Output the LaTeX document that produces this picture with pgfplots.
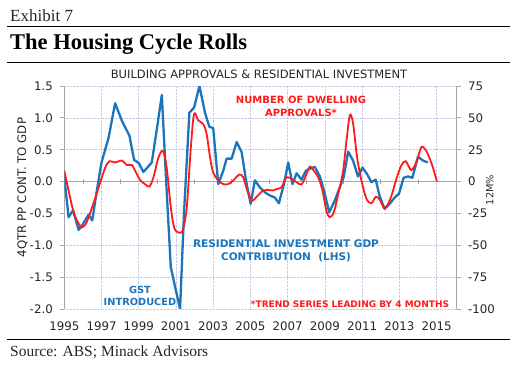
\documentclass[border=0pt]{standalone}
\usepackage{fontspec}
\setmainfont{Liberation Serif}
\newfontfamily\dv{DejaVu Sans}
\usepackage{pgfplots}
\pgfplotsset{compat=1.18}
\definecolor{cblue}{HTML}{1B75BC}
\definecolor{cred}{HTML}{FF1A1A}
\definecolor{cgrid}{HTML}{CACAE6}
\definecolor{caxis}{HTML}{A6A6A6}
\definecolor{ctext}{HTML}{262626}
\pgfplotsset{mybase/.style={
  at={(64.3pt,58pt)}, anchor=south west, scale only axis,
  width=392.2pt, height=223pt,
  xmin=1995, xmax=2016.07,
  /pgf/number format/assume math mode=true,
  tick label style={font=\dv\fontsize{11.8}{13}\selectfont, text=ctext},
  label style={font=\dv\fontsize{11.8}{13}\selectfont, text=ctext},
}}
\begin{document}
\begin{tikzpicture}
\path[use as bounding box] (0pt,0pt) rectangle (520pt,367pt);
% zero line tick marks
\begin{axis}[mybase, ymin=-2, ymax=1.5,
  axis x line=middle, axis y line=none,
  xtick={1996,1998,...,2014}, xticklabels={},
  x axis line style={draw=none},
  xtick style={caxis, line width=0.8pt},
  tick align=center, major tick length=5pt]
\end{axis}
% left axis: residential investment
\begin{axis}[mybase, ymin=-2, ymax=1.5,
  axis y line*=left, axis x line*=bottom,
  x axis line style={draw=none},
  y axis line style={caxis, line width=0.8pt},
  xtick={1995,1997,...,2015},
  xticklabels={1995,1997,1999,2001,2003,2005,2007,2009,2011,2013,2015},
  xticklabel style={yshift=-5pt},
  xtick style={draw=none},
  ytick={-2,-1.5,-1,-0.5,0.5,1,1.5},
  extra y ticks={0}, extra y tick labels={0.0},
  extra y tick style={grid style={caxis, solid, line width=0.8pt}},
  ytick style={caxis, line width=0.8pt},
  tick align=outside, major tick length=4pt,
  yticklabel style={xshift=-4pt, /pgf/number format/fixed, /pgf/number format/fixed zerofill, /pgf/number format/precision=1},
  grid=major, grid style={cgrid, densely dotted, line width=0.6pt},
  ylabel={4QTR PP CONT. TO GDP},
  ylabel style={at={(axis description cs:-0.1066,0.545)}, anchor=center},
]
\addplot[cblue, line width=2.3pt, line join=round] coordinates {
(1995.0,0.08) (1995.23,-0.56) (1995.47,-0.45) (1995.77,-0.76) (1995.95,-0.69)
(1996.3,-0.52) (1996.5,-0.61) (1996.75,-0.14) (1997.0,0.30) (1997.38,0.69)
(1997.73,1.23) (1998.1,0.95) (1998.5,0.72) (1998.75,0.34) (1999.0,0.29)
(1999.25,0.15) (1999.7,0.30) (1999.97,0.82) (2000.24,1.36) (2000.47,0.02)
(2000.72,-1.34) (2000.95,-1.65) (2001.22,-2.0) (2001.43,-0.5) (2001.72,1.08)
(2001.97,1.16) (2002.26,1.50) (2002.56,1.08) (2002.79,0.86) (2003.0,0.84)
(2003.27,-0.04) (2003.54,0.17) (2003.72,0.36) (2003.99,0.36) (2004.26,0.62)
(2004.53,0.46) (2004.76,0.02) (2005.01,-0.35) (2005.24,0.02) (2005.5,-0.09)
(2005.83,-0.18) (2006.05,-0.22) (2006.31,-0.25) (2006.53,-0.34) (2006.8,-0.04)
(2007.03,0.30) (2007.26,-0.04) (2007.48,0.13) (2007.74,0.03) (2007.98,0.17)
(2008.19,0.20) (2008.46,0.23) (2008.73,0.08) (2008.95,-0.14) (2009.23,-0.48)
(2009.53,-0.30) (2009.8,-0.09) (2010.01,0.07) (2010.25,0.47) (2010.51,0.33)
(2010.78,0.08) (2011.02,0.22) (2011.26,0.12) (2011.5,-0.01) (2011.73,0.03)
(2011.94,-0.23) (2012.21,-0.43) (2012.48,-0.35) (2012.75,-0.25) (2012.98,-0.19)
(2013.23,0.06) (2013.46,0.08) (2013.7,0.06) (2014.0,0.39) (2014.27,0.33)
(2014.53,0.30)};
\end{axis}
% right axis: dwelling approvals
\begin{axis}[mybase, ymin=-100, ymax=75,
  axis y line*=right, axis x line=none,
  ytick={-100,-75,-50,-25,0,25,50,75},
  yticklabel style={xshift=4pt},
  y axis line style={caxis, line width=0.8pt},
  ytick style={caxis, line width=0.8pt},
  tick align=outside, major tick length=4pt,
  ylabel={12M\%},
  ylabel style={at={(axis description cs:1.085,0.534)}, anchor=center,
    font=\dv\fontsize{9.8}{11}\selectfont},
]
\addplot[cred, line width=1.8pt, smooth, tension=0.5] coordinates {
(1995.0,8.6) (1995.23,-7) (1995.5,-24) (1995.77,-33) (1995.95,-36)
(1996.2,-32) (1996.57,-17) (1996.9,-2) (1997.2,11) (1997.43,16)
(1997.73,15) (1998.1,16.5) (1998.36,13) (1998.63,13) (1998.86,7)
(1999.08,1) (1999.34,-2) (1999.57,-4) (1999.79,3.4) (2000.06,19)
(2000.3,24) (2000.5,11) (2000.72,-20) (2000.9,-36) (2001.13,-40)
(2001.37,-38) (2001.58,-20) (2001.8,27) (2001.97,53) (2002.2,48)
(2002.47,45) (2002.65,37) (2002.83,19) (2003.0,7) (2003.27,1)
(2003.54,-2) (2003.81,-2) (2004.08,1) (2004.4,5.5) (2004.61,3.4)
(2004.83,-7) (2005.06,-15) (2005.33,-12) (2005.6,-8) (2005.87,-6.5)
(2006.19,-7) (2006.44,-5.7) (2006.67,-4.5) (2006.94,3.4) (2007.2,2)
(2007.48,-0.5) (2007.74,-2.3) (2007.98,4.7) (2008.19,11.7) (2008.4,8.6)
(2008.64,3.4) (2008.87,-7) (2009.08,-23) (2009.26,-28) (2009.48,-24)
(2009.76,-7) (2009.98,8.6) (2010.16,32) (2010.34,52) (2010.51,46)
(2010.73,19) (2010.96,1) (2011.23,-13.5) (2011.5,-17) (2011.73,-12)
(2011.94,-14) (2012.21,-21) (2012.52,-13.5) (2012.84,2) (2013.1,12.5)
(2013.34,16) (2013.64,9) (2013.91,15) (2014.18,27) (2014.45,24)
(2014.77,12.5) (2015.02,0)};
\end{axis}
% annotations
\node[align=center, text=cred, font=\dv\bfseries\fontsize{10}{12.6}\selectfont] at (301pt,260.5pt) {NUMBER OF DWELLING\\APPROVALS*};
\node[align=center, text=cblue, font=\dv\bfseries\fontsize{10.5}{12.7}\selectfont] at (286pt,116.5pt) {RESIDENTIAL INVESTMENT GDP\\CONTRIBUTION\ \ (LHS)};
\node[align=center, text=cblue, font=\dv\bfseries\fontsize{9.8}{11.8}\selectfont] at (140pt,71pt) {GST\\INTRODUCED};
\node[text=cred, font=\dv\bfseries\fontsize{9}{11}\selectfont] at (350pt,63pt) {*TREND SERIES LEADING BY 4 MONTHS};
% header and footer
\node[anchor=base west, inner sep=0, text=ctext, font=\fontsize{17}{20}\selectfont] at (10pt,345.3pt) {Exhibit 7};
\draw[line width=1.3pt] (7pt,340.5pt) -- (510pt,340.5pt);
\node[anchor=base west, inner sep=0, font=\bfseries\fontsize{22.5}{26}\selectfont] at (10pt,317.7pt) {The Housing Cycle Rolls};
\draw[line width=1.3pt] (7pt,304.7pt) -- (510pt,304.7pt);
\node[anchor=base, inner sep=0, text=ctext, font=\dv\fontsize{11.5}{13}\selectfont] at (259pt,288.7pt) {BUILDING APPROVALS \& RESIDENTIAL INVESTMENT};
\draw[line width=1.3pt] (7pt,27.5pt) -- (510pt,27.5pt);
\node[anchor=base west, inner sep=0, text=ctext, font=\fontsize{15.5}{18}\selectfont] at (10pt,10pt) {Source: ABS; Minack Advisors};
\end{tikzpicture}
\end{document}
